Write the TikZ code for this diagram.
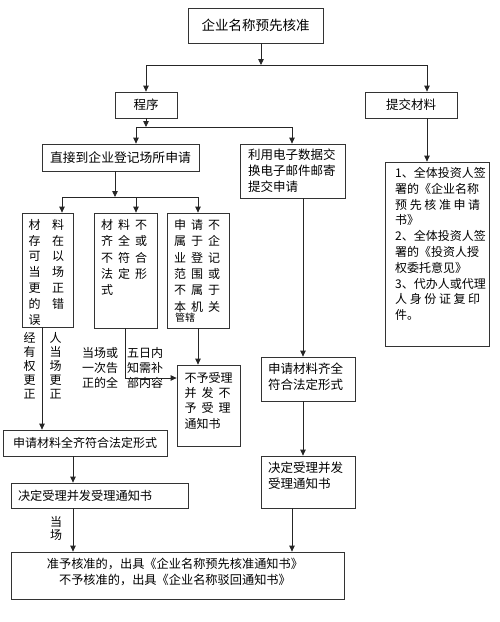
\documentclass[tikz,border=0pt]{standalone}
\usepackage{fontspec}
\newfontfamily\cjk{Noto Sans CJK SC}
\usetikzlibrary{arrows.meta}
\newcommand\zz[1]{\hspace*{#1}}
\begin{document}
\begin{tikzpicture}[x=1pt,y=-1pt,
  box/.style={draw=black!80, line width=0.8pt, inner sep=0pt, rectangle, font=\cjk\fontsize{12.5}{16}\selectfont},
  t/.style={font=\cjk\fontsize{12}{16}\selectfont, inner sep=0pt, align=left, anchor=north west},
  ln/.style={draw=black!85, line width=0.8pt},
  arr/.style={ln, -{Triangle[length=6pt,width=5.5pt]}},
]
\useasboundingbox[fill=white] (0,0) rectangle (500,622);

% boxes
\node[box, minimum width=135pt, minimum height=35pt, font=\cjk\fontsize{13.5}{16}\selectfont] (top) at (255.5,25.5) {企业名称预先核准};
\node[box, minimum width=62pt, minimum height=26pt] (prog) at (146,105) {程序};
\node[box, minimum width=92pt, minimum height=26pt] (tj) at (411,105) {提交材料};
\node[box, minimum width=157pt, minimum height=27pt, font=\cjk\fontsize{12.8}{16}\selectfont] (direct) at (120.5,157.5) {直接到企业登记场所申请};
\node[box, minimum width=105pt, minimum height=54pt] (email) at (292.5,171) {};
\node[box, minimum width=104pt, minimum height=184pt] (list) at (437,254) {};
\node[box, minimum width=51pt, minimum height=114pt] (A) at (47.5,270) {};
\node[box, minimum width=63pt, minimum height=115pt] (B) at (125.5,270.5) {};
\node[box, minimum width=62pt, minimum height=115pt] (C) at (198,270.5) {};
\node[box, minimum width=63pt, minimum height=81pt] (D) at (208.5,405.5) {};
\node[box, minimum width=164pt, minimum height=26pt, font=\cjk\fontsize{12}{16}\selectfont] (ok1) at (85,443) {申请材料全齐符合法定形式};
\node[box, minimum width=177pt, minimum height=25pt, text width=163pt, align=left, font=\cjk\fontsize{12.2}{16}\selectfont] (dec1) at (99.5,495.5) {决定受理并发受理通知书};
\node[box, minimum width=94pt, minimum height=44pt] (ok2) at (308,379) {};
\node[box, minimum width=94pt, minimum height=52pt] (dec2) at (308,482) {};
\node[box, minimum width=333pt, minimum height=47pt] (fin) at (177.5,575.5) {};

% texts inside / beside boxes
\node[t, font=\cjk\fontsize{12.5}{16}\selectfont] (emailt) at (248,148.75) {利用电子数据交\\换电子邮件邮寄\\提交申请};
\node[t] (listt) at (395,167) [font=\cjk\fontsize{12}{15.8}\selectfont] {1、全体投资人签\\署的《企业名称\\预\zz{2.6pt}先\zz{2.6pt}核\zz{2.6pt}准\zz{2.6pt}申\zz{2.6pt}请\\书》\\2、全体投资人签\\署的《投资人授\\权委托意见》\\3、代办人或代理\\人\zz{2.6pt}身\zz{2.6pt}份\zz{2.6pt}证\zz{2.6pt}复\zz{2.6pt}印\\件。};
\node[t, font=\cjk\fontsize{12}{15.8}\selectfont] (At) at (28.5,219) {材\zz{11.5pt}料\\存\zz{11.5pt}在\\可\zz{11.5pt}以\\当\zz{11.5pt}场\\更\zz{11.5pt}正\\的\zz{11.5pt}错\\误};
\node[t, font=\cjk\fontsize{12}{14}\selectfont] (Ao) at (23.5,332) {经\zz{14pt}人\\有\zz{14pt}当\\权\zz{14pt}场\\更\zz{14pt}更\\正\zz{14pt}正};
\node[t, font=\cjk\fontsize{12}{16.4}\selectfont] (Bt) at (101,219) {材\zz{5pt}料\zz{5pt}不\\齐\zz{5pt}全\zz{5pt}或\\不\zz{5pt}符\zz{5pt}合\\法\zz{5pt}定\zz{5pt}形\\式};
\node[t, font=\cjk\fontsize{12}{15}\selectfont] (Bo1) at (82,347) {当场或\\一次告\\正的全};
\node[t, font=\cjk\fontsize{12}{15}\selectfont] (Bo2) at (127,347) {五日内\\知需补\\部内容};
\node[t, font=\cjk\fontsize{12}{16.4}\selectfont] (Ct) at (174,219) {申\zz{5pt}请\zz{5pt}不\\属\zz{5pt}于\zz{5pt}企\\业\zz{5pt}登\zz{5pt}记\\范\zz{5pt}围\zz{5pt}或\\不\zz{5pt}属\zz{5pt}于\\本\zz{5pt}机\zz{5pt}关};
\node[t, font=\cjk\fontsize{10}{12}\selectfont] (Ct2) at (175,313) {管辖};
\node[t, font=\cjk\fontsize{12}{15.3}\selectfont] (Dt) at (184.5,372) {不予受理\\并\zz{5pt}发\zz{5pt}不\\予\zz{5pt}受\zz{5pt}理\\通知书};
\node[t, font=\cjk\fontsize{12.5}{16}\selectfont] (ok2t) at (268,362.75) {申请材料齐全\\符合法定形式};
\node[t, font=\cjk\fontsize{12.5}{16}\selectfont] (dec2t) at (268,461.75) {决定受理并发\\受理通知书};
\node[inner sep=0pt, align=center, font=\cjk\fontsize{12.2}{16}\selectfont] (fint) at (175,572) {准予核准的，出具《企业名称预先核准通知书》\\不予核准的，出具《企业名称驳回通知书》};
\node[inner sep=0pt, align=center, font=\cjk\fontsize{12}{13}\selectfont] (dc) at (56,528.5) {当\\场};

% junction coordinates
\coordinate (j1) at (261,65);
\coordinate (j1l) at (146,65);
\coordinate (j1r) at (427,65);
\coordinate (j2) at (146,127);
\coordinate (j2l) at (136,127);
\coordinate (j2r) at (292,127);
\coordinate (j3) at (115,197);
\coordinate (j3l) at (62,197);
\coordinate (j3m) at (136,197);
\coordinate (j3r) at (198,197);
\coordinate (aout) at (42,327);
\coordinate (bturn) at (125.5,378);
\coordinate (m1) at (73,456);
\coordinate (e1) at (303,198);
\coordinate (e2) at (292,508);

% connectors
\draw[arr] (top.south -| j1) -- (j1);
\draw[ln] (j1l) -- (j1r);
\draw[arr] (j1l) -- (prog.north);
\draw[arr] (j1r) -- (j1r |- tj.north);
\draw[arr] (tj.south -| j1r) -- (j1r |- list.north);
\draw[arr] (prog.south) -- (j2);
\draw[ln] (j2l) -- (j2r);
\draw[arr] (j2l) -- (j2l |- direct.north);
\draw[arr] (j2r) -- (j2r |- email.north);
\draw[arr] (direct.south -| j3) -- (j3);
\draw[ln] (j3l) -- (j3r);
\draw[arr] (j3l) -- (j3l |- A.north);
\draw[arr] (j3m) -- (j3m |- B.north);
\draw[arr] (j3r) -- (C.north);
\draw[arr] (aout) -- (aout |- ok1.north);
\draw[arr] (B.south) -- (bturn) -- (D.west |- bturn);
\draw[arr] (C.south) -- (C.south |- D.north);
\draw[arr] (ok1.south -| m1) -- (m1 |- dec1.north);
\draw[arr] (dec1.south -| m1) -- (m1 |- fin.north);
\draw[arr] (email.south -| e1) -- (e1 |- ok2.north);
\draw[arr] (ok2.south -| e1) -- (e1 |- dec2.north);
\draw[arr] (dec2.south -| e2) -- (e2 |- fin.north);
\end{tikzpicture}
\end{document}
